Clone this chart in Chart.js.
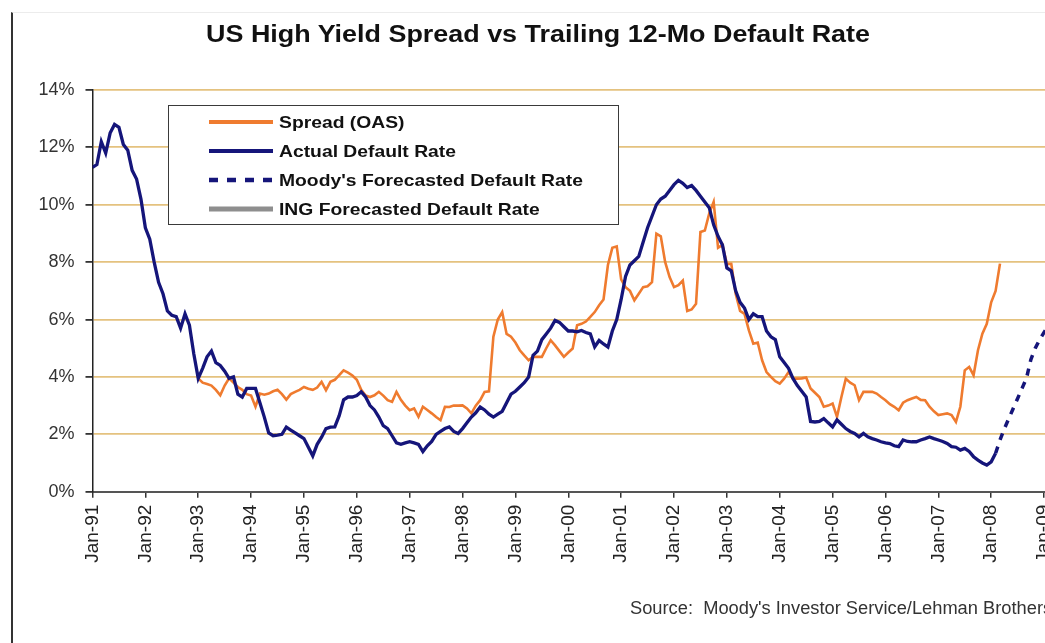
<!DOCTYPE html>
<html>
<head>
<meta charset="utf-8">
<script src="https://cdn.jsdelivr.net/npm/chart.js@4.4.1/dist/chart.umd.min.js"></script>
<style>
  body { margin: 0; width: 1045px; height: 643px; overflow: hidden; position: relative; background: #fff; font-family: "Liberation Sans", Arial, sans-serif; }
  #chart { position: absolute; left: 0; top: 0; }
  #frame { position: absolute; left: 11px; top: 12px; width: 1100px; height: 700px; border-left: 2px solid #333; border-top: 1px solid #ececec; }
  #title { position: absolute; left: 138px; width: 800px; top: 19px; line-height: 30px; text-align: center; font-weight: bold; font-size: 23px; color: #111; transform: scaleX(1.17); }
  #legend { position: absolute; left: 168px; top: 105px; width: 451px; height: 120px; box-sizing: border-box; border: 1.5px solid #3a3a3a; background: #fff; }
  .item { position: absolute; left: 0; height: 20px; width: 440px; }
  .item svg { position: absolute; left: 39px; top: 0; }
  .item span { position: absolute; left: 110px; top: 0; line-height: 20px; font-weight: bold; font-size: 16.5px; color: #111; white-space: nowrap; transform: scaleX(1.17); transform-origin: left center; }
  #source { position: absolute; left: 630px; top: 597px; font-size: 18.3px; color: #333; white-space: nowrap; }
</style>
</head>
<body>
<canvas id="chart" width="1080" height="643"></canvas>
<div id="frame"></div>
<div id="title">US High Yield Spread vs Trailing 12-Mo Default Rate</div>
<div id="legend"></div>
<div id="source">Source:&nbsp; Moody's Investor Service/Lehman Brothers</div>
<script>
// Actual trailing 12-month default rate, monthly Jan-91 .. Feb-08 (%)
const defaultRate = [
  11.3, 11.4, 12.2, 11.8, 12.5, 12.8, 12.7, 12.1, 11.9, 11.2, 10.9, 10.2,
  9.2, 8.8, 8.0, 7.3, 6.9, 6.3, 6.15, 6.1, 5.7, 6.2, 5.8, 4.8,
  3.95, 4.3, 4.7, 4.9, 4.5, 4.4, 4.2, 3.95, 4.0, 3.4, 3.3, 3.6,
  3.6, 3.6, 3.1, 2.6, 2.05, 1.95, 1.97, 2.0, 2.25, 2.15, 2.05, 1.95,
  1.85, 1.55, 1.25, 1.65, 1.9, 2.2, 2.25, 2.26, 2.65, 3.2, 3.3, 3.3,
  3.35, 3.48, 3.3, 3.0, 2.85, 2.6, 2.3, 2.2, 1.95, 1.7, 1.65, 1.7,
  1.74, 1.7, 1.65, 1.4, 1.6, 1.75, 2.0, 2.1, 2.2, 2.26, 2.1, 2.03,
  2.2, 2.4, 2.6, 2.75, 2.95, 2.85, 2.7, 2.6, 2.7, 2.8, 3.1, 3.4,
  3.5, 3.65, 3.8, 4.0, 4.75, 4.9, 5.3, 5.5, 5.7, 5.97, 5.9, 5.75,
  5.6, 5.6, 5.57, 5.62, 5.55, 5.5, 5.05, 5.27, 5.15, 5.04, 5.6, 6.0,
  6.7, 7.5, 7.9, 8.05, 8.2, 8.7, 9.2, 9.6, 10.0, 10.2, 10.3, 10.5,
  10.7, 10.85, 10.75, 10.6, 10.67, 10.5, 10.3, 10.1, 9.9, 9.3, 8.9, 8.6,
  7.8, 7.7, 7.0, 6.6, 6.4, 6.0, 6.2, 6.1, 6.1, 5.6, 5.4, 5.3,
  4.7, 4.5, 4.3, 3.95, 3.7, 3.5, 3.3, 2.45, 2.43, 2.45, 2.55, 2.4,
  2.26, 2.5, 2.35, 2.2, 2.1, 2.03, 1.91, 2.03, 1.91, 1.85, 1.8, 1.74,
  1.7, 1.68, 1.6, 1.57, 1.8, 1.75, 1.74, 1.74, 1.8, 1.85, 1.91, 1.85,
  1.8, 1.75, 1.68, 1.57, 1.55, 1.45, 1.51, 1.4, 1.22, 1.1, 1.0, 0.93,
  1.04, 1.34
];
const defaultStart = 1991;

// High yield spread (OAS), monthly Jan-93 .. Mar-08 (%)
const spread = [
  3.95, 3.8, 3.75, 3.7, 3.55, 3.36, 3.7, 3.95, 3.8, 3.65, 3.55, 3.4,
  3.35, 2.96, 3.42, 3.38, 3.42, 3.5, 3.55, 3.4, 3.21, 3.4, 3.48, 3.55,
  3.65, 3.59, 3.55, 3.63, 3.83, 3.54, 3.83, 3.9, 4.06, 4.23, 4.15, 4.05,
  3.9, 3.55, 3.35, 3.3, 3.36, 3.48, 3.35, 3.19, 3.13, 3.48, 3.2, 3.0,
  2.84, 2.9, 2.61, 2.96, 2.85, 2.73, 2.6, 2.49, 2.96, 2.95, 3.0, 3.0,
  3.01, 2.9, 2.73, 3.0, 3.19, 3.48, 3.5, 5.4, 6.0, 6.26, 5.5, 5.4,
  5.2, 4.93, 4.75, 4.58, 4.7, 4.7, 4.7, 5.0, 5.28, 5.1, 4.9, 4.7,
  4.85, 4.99, 5.8, 5.85, 5.93, 6.09, 6.26, 6.5, 6.7, 7.9, 8.5, 8.55,
  7.4, 7.13, 7.0, 6.67, 6.9, 7.13, 7.16, 7.3, 8.99, 8.9, 8.0, 7.48,
  7.13, 7.2, 7.36, 6.3, 6.35, 6.55, 9.05, 9.1, 9.7, 10.1, 8.5, 8.6,
  7.94, 7.94, 6.9, 6.3, 6.2, 5.62, 5.16, 5.2, 4.58, 4.17, 4.0, 3.85,
  3.77, 3.94, 4.17, 3.94, 3.94, 3.95, 3.98, 3.6, 3.45, 3.3, 2.96, 3.0,
  3.07, 2.61, 3.3, 3.94, 3.8, 3.71, 3.19, 3.48, 3.48, 3.48, 3.42, 3.3,
  3.19, 3.05, 2.96, 2.84, 3.1, 3.19, 3.25, 3.3, 3.2, 3.19, 2.96, 2.8,
  2.67, 2.7, 2.73, 2.67, 2.43, 2.96, 4.23, 4.35, 4.06, 4.93, 5.51, 5.85,
  6.6, 7.0, 7.95
];
const spreadStart = 1993;

// Moody's forecasted default rate, monthly Feb-08 .. Apr-09 (%)
const moodysForecast = [1.34, 1.8, 2.2, 2.55, 2.9, 3.25, 3.6, 3.95, 4.6, 5.0, 5.3, 5.55, 5.8, 6.05, 6.3];
const moodysStart = 2008 + 1 / 12;

// ING forecast does not show inside the visible part of the picture
const ingForecast = [];

const xTickYears = [1991, 1992, 1993, 1994, 1995, 1996, 1997, 1998, 1999, 2000, 2001, 2002, 2003, 2004, 2005, 2006, 2007, 2008, 2009];
const xTickLabels = ['Jan-91', 'Jan-92', 'Jan-93', 'Jan-94', 'Jan-95', 'Jan-96', 'Jan-97', 'Jan-98', 'Jan-99', 'Jan-00',
  'Jan-01', 'Jan-02', 'Jan-03', 'Jan-04', 'Jan-05', 'Jan-06', 'Jan-07', 'Jan-08', 'Jan-09'];

// monthly series -> {x: decimal year, y}
function monthly(values, start) {
  return values.map((v, i) => ({ x: start + i / 12, y: v }));
}

const orange = '#EF7B2F';
const navy = '#15157A';
const gray = '#8E8E8E';

const datasets = [
  { label: 'Spread (OAS)', data: monthly(spread, spreadStart), borderColor: orange, borderWidth: 2.6, order: 2 },
  { label: 'Actual Default Rate', data: monthly(defaultRate, defaultStart), borderColor: navy, borderWidth: 3.3, order: 1 },
  { label: "Moody's Forecasted Default Rate", data: monthly(moodysForecast, moodysStart), borderColor: navy, borderWidth: 3.5, borderDash: [7, 7], order: 0 },
  { label: 'ING Forecasted Default Rate', data: monthly(ingForecast, 2008), borderColor: gray, borderWidth: 5, order: 3 }
];

new Chart(document.getElementById('chart'), {
  type: 'line',
  data: { datasets: datasets },
  options: {
    responsive: false,
    animation: false,
    devicePixelRatio: 1,
    layout: { padding: { top: 90, left: 0, right: 0, bottom: 0 } },
    elements: { point: { radius: 0 }, line: { tension: 0, fill: false } },
    plugins: { legend: { display: false }, tooltip: { enabled: false } },
    scales: {
      x: {
        type: 'linear',
        min: 1991,
        max: 2009.68,
        afterBuildTicks: (scale) => { scale.ticks = xTickYears.map(v => ({ value: v })); },
        afterFit: (scale) => { scale.height = 151.3; },
        grid: { drawOnChartArea: false, tickLength: 6, tickColor: '#333', lineWidth: 1.5 },
        border: { color: '#555', width: 2 },
        ticks: {
          autoSkip: false,
          minRotation: 90,
          maxRotation: 90,
          padding: 7,
          color: '#222',
          font: { family: 'Liberation Sans, Arial', size: 19 },
          callback: (v) => xTickLabels[xTickYears.indexOf(v)]
        }
      },
      y: {
        min: 0,
        max: 14,
        afterFit: (scale) => { scale.width = 92.5; },
        grid: { color: '#E4C27F', lineWidth: 1.8, tickLength: 7, tickColor: '#333' },
        border: { color: '#222', width: 1.5 },
        ticks: {
          stepSize: 2,
          padding: 11,
          color: '#333',
          font: { family: 'Liberation Sans, Arial', size: 18 },
          callback: (v) => v + '%'
        }
      }
    }
  }
});

// legend box drawn as html, from the dataset list
const legend = document.getElementById('legend');
const rowsY = [6, 35, 64, 93];
datasets.forEach((ds, i) => {
  const row = document.createElement('div');
  row.className = 'item';
  row.style.top = rowsY[i] + 'px';
  const dash = ds.borderDash ? 'stroke-dasharray="9 9"' : '';
  const w = ds.borderDash ? 4.5 : (ds.borderWidth >= 5 ? 5 : 4);
  row.innerHTML = '<svg width="66" height="20"><line x1="1" y1="10" x2="65" y2="10" stroke="' + ds.borderColor +
    '" stroke-width="' + w + '" ' + dash + '/></svg><span>' + ds.label + '</span>';
  legend.appendChild(row);
});
</script>
</body>
</html>
